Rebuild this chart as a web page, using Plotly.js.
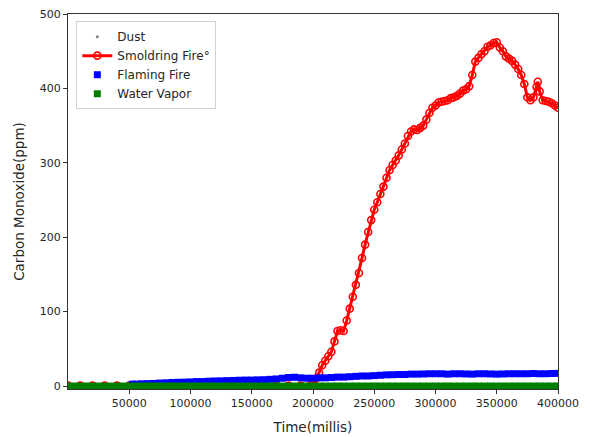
<!DOCTYPE html>
<html>
<head>
<meta charset="utf-8">
<script src="https://cdn.plot.ly/plotly-3.0.1.min.js"></script>
<style>html,body{margin:0;padding:0;background:#fff;}#chart{width:592px;height:437px;}</style>
</head>
<body>
<div id="chart"></div>
<script>
// ---- data ----
const dustX = [0, 50000, 100000, 150000, 200000, 250000, 300000, 350000, 400000];
const dustY = [0, 0, 0, 0, 0, 0, 0, 0, 0];

const smolderX = [0, 10000, 20000, 30000, 40000, 50000, 60000, 70000, 80000, 90000,
  100000, 110000, 120000, 130000, 140000, 150000, 160000, 170000, 180000, 190000, 197500,
  200000, 202500, 205000, 207500, 210000, 212500, 215000, 217500, 220000, 222500,
  225000, 227500, 230000, 232500, 235000, 237500, 240000, 242500, 245000, 247500,
  250000, 252500, 255000, 257500, 260000, 262500, 265000, 267500, 270000, 272500,
  275000, 277500, 280000, 282500, 285000, 287500, 290000, 292500, 295000, 297500,
  300000, 302500, 305000, 307500, 310000, 312500, 315000, 317500, 320000, 322500,
  325000, 327500, 330000, 332500, 335000, 337500, 340000, 342500, 345000, 347500,
  350000, 352500, 355000, 357500, 360000, 362500, 365000, 367500, 370000, 372500,
  375000, 377500, 380000, 382500, 383500, 385000, 387500, 390000, 392500, 395000,
  397500, 400000];
const smolderY = [0.5, 0.5, 0.5, 0.5, 0.5, 0.5, 0.5, 0.5, 0.5, 0.5,
  0.5, 0.5, 0.5, 0.5, 0.5, 0.5, 0.5, 0.5, 0.5, 0.5, 1,
  3, 10, 18, 28, 34, 40, 46, 60, 74, 75,
  74, 88, 104, 120, 136, 152, 172, 190, 207, 223,
  237, 247, 258, 268, 280, 290, 297, 303, 310, 318,
  326, 336, 342, 345, 344, 347, 350, 358, 367, 374,
  377, 381, 382, 383, 384, 387, 388, 390, 393, 397,
  399, 403, 418, 436, 441, 446, 450, 456, 458, 461,
  462, 455, 450, 443, 440, 437, 432, 426, 418, 406,
  388, 384, 388, 402, 409, 396, 384, 383, 382, 380,
  377, 374];

const flamingX = [52500, 55000, 60000, 65000, 70000, 75000, 80000, 85000, 90000, 95000,
  100000, 105000, 110000, 115000, 120000, 125000, 130000, 135000, 140000, 145000,
  150000, 155000, 160000, 165000, 170000, 175000, 180000, 185000, 190000, 195000,
  200000, 205000, 210000, 215000, 220000, 225000, 230000, 235000, 240000, 245000,
  250000, 255000, 260000, 265000, 270000, 275000, 280000, 285000, 290000, 295000,
  300000, 305000, 310000, 315000, 320000, 325000, 330000, 335000, 340000, 345000,
  350000, 355000, 360000, 365000, 370000, 375000, 380000, 385000, 390000, 395000,
  400000];
const flamingY = [2.5, 2.5, 3, 3.2, 3.5, 4, 4.3, 4.8, 5, 5.2,
  5.5, 6, 6, 6.5, 6.8, 7, 7.2, 7.5, 7.8, 8,
  8, 8.3, 8.5, 9, 9.5, 10.5, 11.5, 11.8, 11, 10.5,
  10.5, 11, 11, 11.5, 12, 12, 12.5, 13, 13.5, 13.5,
  14, 14.5, 15, 15.2, 15.5, 15.5, 16, 16, 16.2, 16.5,
  16.5, 16.5, 16, 16.5, 16.5, 16.2, 16, 16.5, 16.5, 16.2,
  16, 16.2, 16.5, 16.5, 16.5, 16.5, 16.8, 16.5, 16.5, 16.8,
  17];

const vaporX = [0, 5000, 10000, 15000, 20000, 25000, 30000, 35000, 40000, 45000,
  50000, 55000, 60000, 65000, 70000, 75000, 80000, 85000, 90000, 95000,
  100000, 105000, 110000, 115000, 120000, 125000, 130000, 135000, 140000, 145000,
  150000, 155000, 160000, 165000, 170000, 175000, 180000, 185000, 190000, 195000,
  200000, 205000, 210000, 215000, 220000, 225000, 230000, 235000, 240000, 245000,
  250000, 255000, 260000, 265000, 270000, 275000, 280000, 285000, 290000, 295000,
  300000, 305000, 310000, 315000, 320000, 325000, 330000, 335000, 340000, 345000,
  350000, 355000, 360000, 365000, 370000, 375000, 380000, 385000, 390000, 395000,
  400000];
const vaporY = [0, 0, 0, 0, 0, 0, 0, 0, 0, 0,
  0, 0, 0, 0, 0, 0, 0, 0, 0, 0,
  0, 0, 0, 0, 0, 0, 0, 0, 0, 0,
  0, 0, 0, 0, 0, 0, 0, 0, 0, 0,
  0, 0, 0, 0, 0, 0, 0, 0, 0, 0,
  0, 0, 0, 0, 0, 0, 0, 0, 0, 0,
  0, 0, 0, 0, 0, 0, 0, 0, 0, 0,
  0, 0, 0, 0, 0, 0, 0, 0, 0, 0,
  0];

const xTicks = [50000, 100000, 150000, 200000, 250000, 300000, 350000, 400000];
const yTicks = [0, 100, 200, 300, 400, 500];

const traces = [
  {x: dustX, y: dustY, name: 'Dust', type: 'scatter', mode: 'markers',
   marker: {color: '#7f7f7f', size: 3}},
  {x: smolderX, y: smolderY, name: 'Smoldring Fire°', type: 'scatter', mode: 'lines+markers',
   line: {color: '#ff0000', width: 3},
   marker: {color: '#ff0000', symbol: 'circle-open', size: 7, line: {width: 1.6, color: '#ff0000'}}},
  {x: flamingX, y: flamingY, name: 'Flaming Fire', type: 'scatter', mode: 'markers',
   marker: {color: '#0000ff', symbol: 'square', size: 7}},
  {x: vaporX, y: vaporY, name: 'Water Vapor', type: 'scatter', mode: 'markers',
   marker: {color: '#007f00', symbol: 'square', size: 7}}
];

const tickFont = {family: 'DejaVu Sans', size: 11, color: '#262626'};
const titleFont = {family: 'DejaVu Sans', size: 13.5, color: '#262626'};
const layout = {
  width: 592, height: 437,
  margin: {l: 68, r: 34, t: 14, b: 48},
  paper_bgcolor: '#ffffff', plot_bgcolor: '#ffffff',
  font: tickFont,
  showlegend: true,
  legend: {x: 0.017, y: 0.981, xanchor: 'left', yanchor: 'top',
    bgcolor: 'rgba(255,255,255,0.9)', bordercolor: '#d0d0d0', borderwidth: 1,
    font: {family: 'DejaVu Sans', size: 12, color: '#262626'}},
  xaxis: {range: [0, 400000], tickvals: xTicks, ticktext: xTicks.map(String),
    showgrid: false, zeroline: false, showline: true, mirror: true,
    linecolor: '#333333', linewidth: 1, ticks: 'outside', ticklen: 4, tickcolor: '#333333',
    tickfont: tickFont, title: {text: 'Time(millis)', font: titleFont, standoff: 13}},
  yaxis: {range: [-4, 500], tickvals: yTicks, ticktext: yTicks.map(String),
    showgrid: false, zeroline: false, showline: true, mirror: true,
    linecolor: '#333333', linewidth: 1, ticks: 'outside', ticklen: 4, tickcolor: '#333333',
    tickfont: tickFont, title: {text: 'Carbon Monoxide(ppm)', font: titleFont, standoff: 12}}
};

Plotly.newPlot('chart', traces, layout, {staticPlot: true, displayModeBar: false});
</script>
</body>
</html>
